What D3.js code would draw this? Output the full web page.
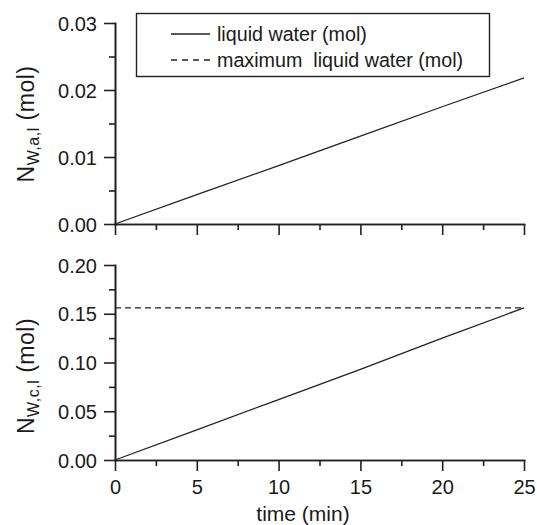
<!DOCTYPE html>
<html>
<head>
<meta charset="utf-8">
<script src="https://cdn.jsdelivr.net/npm/d3@7"></script>
<style>
    body { margin: 0; background: #fff; }
    svg { display: block; }
    text { font-family: "Liberation Sans", Arial, sans-serif; fill: #1a1a1a; }
    .axis path, .axis line { stroke: #222; stroke-width: 1.6; }
    .axis text { font-size: 20px; }
    .series { fill: none; stroke: #222; stroke-width: 1.3; }
</style>
</head>
<body>
<div id="chart"></div>
<script>

// time in minutes
let times = [0, 5, 10, 15, 20, 25];
// anode liquid water (mol)
let anodeWater = [0, 0.0044, 0.0087, 0.0131, 0.0175, 0.0218];
// cathode liquid water (mol)
let cathodeWater = [0, 0.031, 0.062, 0.093, 0.125, 0.156];
// maximum cathode liquid water (mol)
let maxWater = 0.156;

let xTicks = [0, 5, 10, 15, 20, 25];
let xMinor = [2.5, 7.5, 12.5, 17.5, 22.5];
let yTopTicks = [0, 0.01, 0.02, 0.03];
let yTopMinor = [0.005, 0.015, 0.025];
let yBotTicks = [0, 0.05, 0.10, 0.15, 0.20];
let yBotMinor = [0.025, 0.075, 0.125, 0.175];

let legendLabels = ["liquid water (mol)", "maximum\u00a0 liquid water (mol)"];

const W = 537, H = 525;
const svg = d3.select("#chart").append("svg")
    .attr("width", W)
    .attr("height", H);

const x = d3.scaleLinear().domain([0, 25]).range([115, 524]);
const yTop = d3.scaleLinear().domain([0, 0.03]).range([224, 23]);
const yBot = d3.scaleLinear().domain([0, 0.2]).range([460, 265]);

const fmt = d3.format(".2f");

function drawAxes(y, yTicks, yMinor, showXLabels) {
    // minor ticks first, majors on top
    svg.append("g")
        .attr("class", "axis")
        .attr("transform", `translate(0,${y.range()[0]})`)
        .call(d3.axisBottom(x).tickValues(xMinor).tickSize(6).tickSizeOuter(0).tickFormat(""));

    let xa = svg.append("g")
        .attr("class", "axis")
        .attr("transform", `translate(0,${y.range()[0]})`)
        .call(d3.axisBottom(x).tickValues(xTicks).tickSize(11).tickSizeOuter(0)
            .tickFormat(showXLabels ? d3.format("d") : ""));
    xa.selectAll("text").attr("dy", null).attr("y", 34);

    svg.append("g")
        .attr("class", "axis")
        .attr("transform", `translate(${x.range()[0]},0)`)
        .call(d3.axisLeft(y).tickValues(yMinor).tickSize(6).tickSizeOuter(0).tickFormat(""));

    let ya = svg.append("g")
        .attr("class", "axis")
        .attr("transform", `translate(${x.range()[0]},0)`)
        .call(d3.axisLeft(y).tickValues(yTicks).tickSize(11).tickSizeOuter(0).tickFormat(fmt));
    ya.selectAll("text").attr("x", -18).attr("dy", "0.36em");

    svg.selectAll(".axis .domain").attr("stroke-linecap", "square");
}

drawAxes(yTop, yTopTicks, yTopMinor, false);
drawAxes(yBot, yBotTicks, yBotMinor, true);

// lines
const lineTop = d3.line().x((d, i) => x(times[i])).y(d => yTop(d));
const lineBot = d3.line().x((d, i) => x(times[i])).y(d => yBot(d));

svg.append("path")
    .attr("class", "series")
    .attr("d", lineTop(anodeWater));

svg.append("path")
    .attr("class", "series")
    .attr("stroke-dasharray", "6,4")
    .attr("d", d3.line()([[x(0), yBot(maxWater)], [x(25), yBot(maxWater)]]));

svg.append("path")
    .attr("class", "series")
    .attr("d", lineBot(cathodeWater));

// y axis titles
function yTitle(cy, sub) {
    let t = svg.append("text")
        .attr("transform", `translate(34,${cy}) rotate(-90)`)
        .attr("text-anchor", "middle")
        .style("font-size", "23px")
        .style("letter-spacing", "0.5px");
    t.append("tspan").text("N");
    t.append("tspan").style("font-size", "16px").attr("dy", 5).text(sub);
    t.append("tspan").attr("dy", -5).text(" (mol)");
}
yTitle(124, "W,a,l");
yTitle(376, "W,c,l");

// x axis title
svg.append("text")
    .attr("x", 303)
    .attr("y", 521)
    .attr("text-anchor", "middle")
    .style("font-size", "21px")
    .text("time (min)");

// legend
const legend = svg.append("g");
legend.append("rect")
    .attr("x", 136.5).attr("y", 13.5)
    .attr("width", 353).attr("height", 63)
    .attr("fill", "#fff")
    .attr("stroke", "#222")
    .attr("stroke-width", 1.4);

legendLabels.forEach((lab, i) => {
    let ly = 34 + i * 26;
    legend.append("line")
        .attr("class", "series")
        .attr("x1", 171).attr("x2", 210)
        .attr("y1", ly).attr("y2", ly)
        .attr("stroke-dasharray", i == 1 ? "6,5" : null);
    legend.append("text")
        .attr("x", 217)
        .attr("y", ly)
        .attr("dy", "0.35em")
        .style("font-size", "19.7px")
        .text(lab);
});

</script>
</body>
</html>
